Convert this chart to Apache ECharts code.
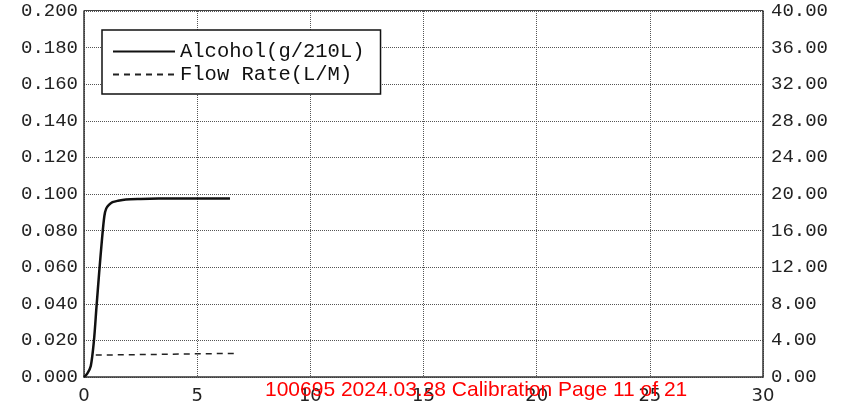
<!DOCTYPE html>
<html>
<head>
<meta charset="utf-8">
<script src="https://cdn.jsdelivr.net/npm/echarts@6/dist/echarts.min.js"></script>
<style>
  html, body { margin: 0; padding: 0; background: #fff; }
  #main { width: 848px; height: 407px; }
</style>
</head>
<body>
<div id="main"></div>
<script>
// alcohol curve, [seconds, g/210L]
var alcohol = [
  [0, 0], [0.15, 0.002], [0.3, 0.006], [0.44, 0.02], [0.55, 0.038],
  [0.67, 0.057], [0.8, 0.076], [0.9, 0.088], [0.98, 0.092], [1.1, 0.094],
  [1.26, 0.0955], [1.5, 0.0963], [1.85, 0.097], [2.5, 0.0973], [3.3, 0.0975],
  [4.5, 0.0976], [5.5, 0.0976], [6.45, 0.0976]
];
// flow rate, [seconds, L/M]
var flow = [
  [0.52, 2.4], [1.5, 2.42], [2.5, 2.45], [3.5, 2.48], [4.5, 2.52], [5.5, 2.55], [6.67, 2.58]
];
var seriesNames = ['Alcohol(g/210L)', 'Flow Rate(L/M)'];
var footer = '100695 2024.03.28 Calibration Page 11 of 21';

var mono = 'Liberation Mono';
var grid = { type: 'dotted', color: '#555', width: 1 };

var option = {
  backgroundColor: '#fff',
  animation: false,
  grid: { left: 84, right: 85, top: 11, bottom: 30 },
  legend: {
    orient: 'vertical',
    left: 102, top: 30,
    padding: [11, 16, 9, 10],
    itemGap: 2,
    itemWidth: 62, itemHeight: 14,
    itemStyle: { opacity: 0 },
    backgroundColor: '#fff',
    borderColor: '#111', borderWidth: 1.5,
    textStyle: { fontFamily: mono, fontSize: 20.5, color: '#111' },
    data: seriesNames
  },
  xAxis: {
    type: 'value', min: 0, max: 30, interval: 5,
    axisLine: { show: true, onZero: false, lineStyle: { color: '#333', width: 1.5 } },
    axisTick: { show: false },
    axisLabel: { fontFamily: 'DejaVu Sans', fontSize: 18, color: '#222', margin: 10 },
    splitLine: { show: true, lineStyle: grid }
  },
  yAxis: [{
    type: 'value', min: 0, max: 0.2, interval: 0.02,
    axisLine: { show: true, lineStyle: { color: '#333', width: 1.5 } },
    axisTick: { show: false },
    axisLabel: { fontFamily: mono, fontSize: 19, color: '#222', margin: 6,
      formatter: function (v) { return v.toFixed(3); } },
    splitLine: { show: true, lineStyle: grid }
  }, {
    type: 'value', min: 0, max: 40, interval: 4, position: 'right',
    axisLine: { show: true, lineStyle: { color: '#333', width: 1.5 } },
    axisTick: { show: false },
    axisLabel: { fontFamily: mono, fontSize: 19, color: '#222', margin: 8,
      formatter: function (v) { return v.toFixed(2); } },
    splitLine: { show: false }
  }],
  graphic: [{
    type: 'rect', shape: { x: 84, y: 10, width: 679, height: 1 },
    style: { fill: '#444' }, silent: true
  }, {
    type: 'text', left: 265, top: 380,
    style: { text: footer, fill: '#ff0000', font: '21px "Liberation Sans"' },
    z: 100
  }],
  series: [{
    name: seriesNames[0], type: 'line', yAxisIndex: 0, data: alcohol,
    symbol: 'none', smooth: 0.3,
    lineStyle: { color: '#111', width: 2.5 },
    itemStyle: { color: '#111' }
  }, {
    name: seriesNames[1], type: 'line', yAxisIndex: 1, data: flow,
    symbol: 'none',
    lineStyle: { color: '#222', width: 1.5, type: [6, 5] },
    itemStyle: { color: '#222' }
  }]
};

echarts.init(document.getElementById('main')).setOption(option);
</script>
</body>
</html>
